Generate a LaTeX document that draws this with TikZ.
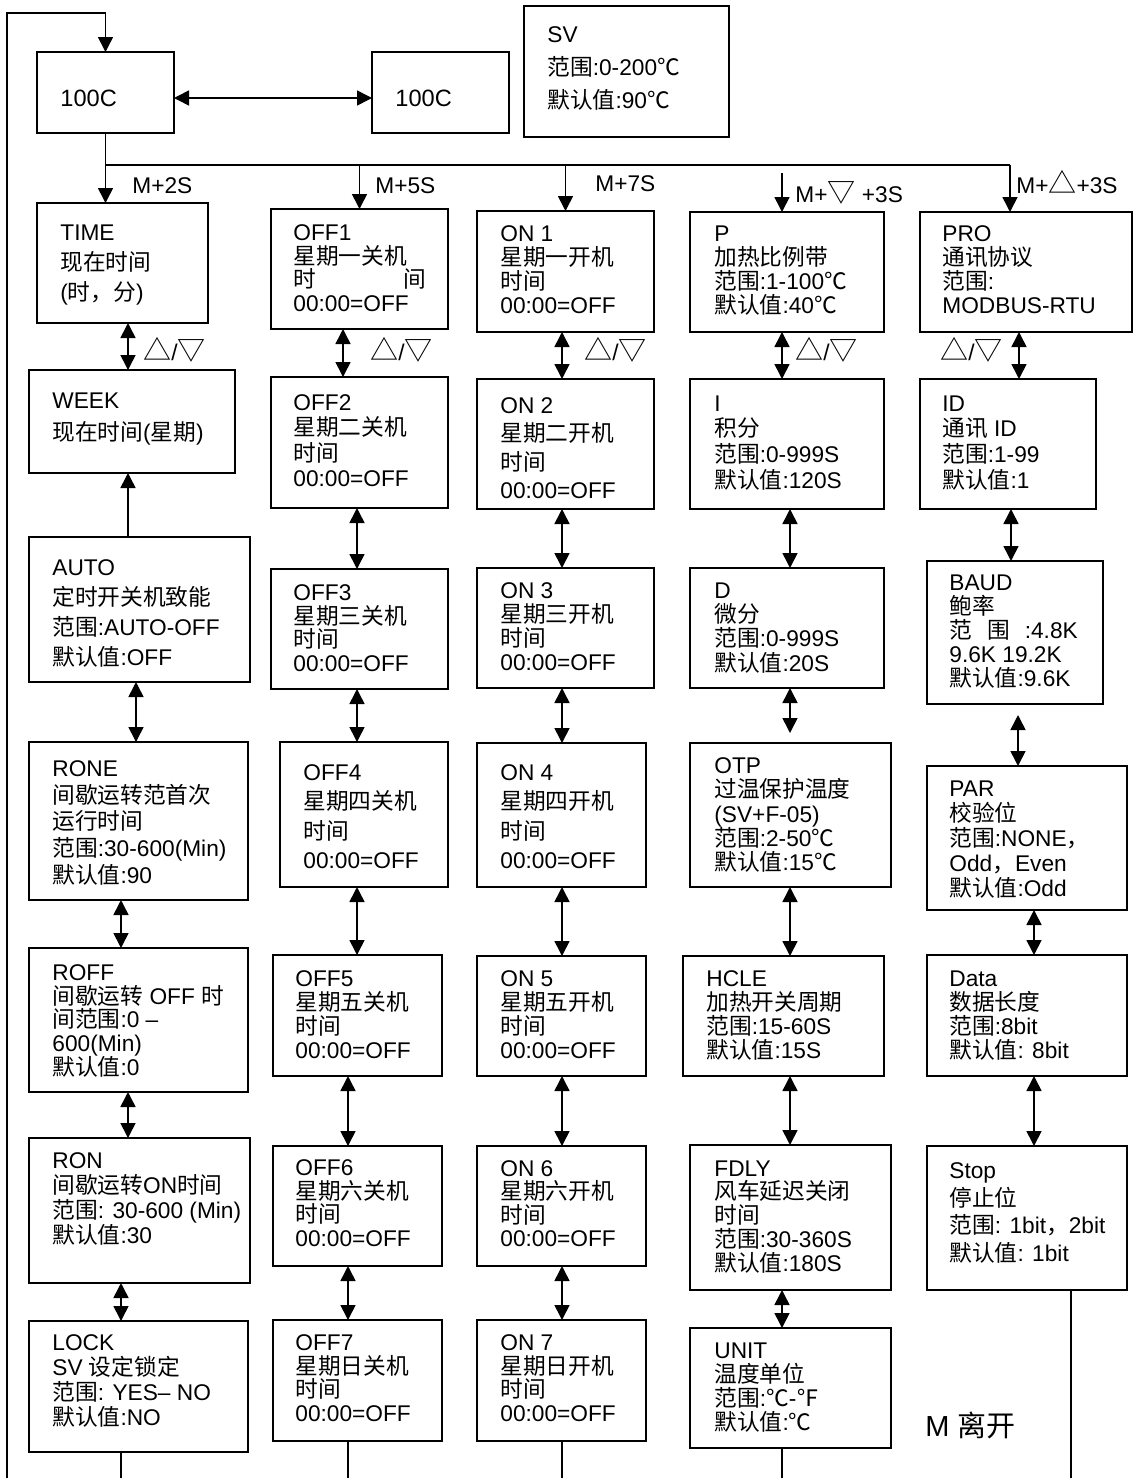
\documentclass[tikz,border=0pt]{standalone}
\usepackage{fontspec}
\setmainfont{Liberation Sans}
\newfontfamily\cjk{Noto Sans CJK SC}
\newcommand\zh[1]{{\cjk #1}}
\newcommand\tri[1]{{\cjk\fontsize{14}{14}\selectfont #1}}
\usetikzlibrary{arrows.meta}

\begin{document}
\begin{tikzpicture}[x=0.5pt, y=-0.5pt,
    pbox/.style 2 args={draw, line width=1pt, anchor=north west, inner sep=0pt, outer sep=0pt,
        minimum width=#1*0.5pt, minimum height=#2*0.5pt},
    txt/.style={anchor=north west, inner sep=0pt, align=left, font=\fontsize{11.35}{#1}\selectfont},
    txt/.default=12,
    lbl/.style={anchor=base west, inner sep=0pt, font=\fontsize{11.35}{12}\selectfont},
    wire/.style={line width=0.8pt},
    arr/.style={line width=0.8pt, -{Triangle[width=7.5pt,length=7.5pt]}},
    biarr/.style={line width=0.8pt, {Triangle[width=7.5pt,length=7.5pt]}-{Triangle[width=7.5pt,length=7.5pt]}}]
    \useasboundingbox (0,0) rectangle (1141,1478);

    % top row
    \node[pbox={137}{81}] (main) at (37,52) {};
    \node[pbox={137}{81}] (alt) at (372,52) {};
    \node[pbox={205}{131}] (sv) at (524,6) {};
    \node[lbl, font=\fontsize{11.8}{12}\selectfont] (main-t) at (60,106) {100C};
    \node[lbl, font=\fontsize{11.8}{12}\selectfont] (alt-t) at (395,106) {100C};
    \node[txt=16.5] (sv-t) at (547,26) {SV\\\zh{范围}:0-200\zh{℃}\\\zh{默认值}:90\zh{℃}};
    \draw[biarr] (main.east |- 0,98) -- (alt.west |- 0,98);

    % column 1
    \node[pbox={171}{120}] (time) at (37,203) {};
    \node[pbox={206}{103}] (week) at (29,370) {};
    \node[pbox={221}{145}] (auto) at (29,537) {};
    \node[pbox={219}{158}] (rone) at (29,742) {};
    \node[pbox={219}{144}] (roff) at (29,948) {};
    \node[pbox={221}{145}] (ron) at (29,1138) {};
    \node[pbox={219}{131}] (lock) at (29,1321) {};
    \node[txt=15] (time-t) at (60,224) {TIME\\\zh{现在时间}\\(\zh{时，分})};
    \node[txt=16] (week-t) at (52,392) {WEEK\\\zh{现在时间}(\zh{星期})};
    \node[txt=15] (auto-t) at (52,559) {AUTO\\\zh{定时开关机致能}\\\zh{范围}:AUTO-OFF\\\zh{默认值}:OFF};
    \node[txt=13.4] (rone-t) at (52,760) {RONE\\\zh{间歇运转范首次}\\\zh{运行时间}\\\zh{范围}:30-600(Min)\\\zh{默认值}:90};
    \node[txt=11.9] (roff-t) at (52,964) {ROFF\\\zh{间歇运转} OFF \zh{时}\\\zh{间范围}:0 –\\600(Min)\\\zh{默认值}:0};
    \node[txt=12.5] (ron-t) at (52,1152) {RON\\\zh{间歇运转}ON\zh{时间}\\\zh{范围}: 30-600 (Min)\\\zh{默认值}:30};
    \node[txt=12.5] (lock-t) at (52,1334) {LOCK\\SV \zh{设定锁定}\\\zh{范围}: YES– NO\\\zh{默认值}:NO};

    % column 2
    \node[pbox={177}{120}] (off1) at (271,209) {};
    \node[pbox={177}{131}] (off2) at (271,377) {};
    \node[pbox={177}{120}] (off3) at (271,569) {};
    \node[pbox={168}{145}] (off4) at (280,742) {};
    \node[pbox={169}{121}] (off5) at (273,955) {};
    \node[pbox={169}{120}] (off6) at (273,1146) {};
    \node[pbox={169}{121}] (off7) at (273,1320) {};
    \node[txt=11.9] (off1-t) at (293,224) {OFF1\\\zh{星期一关机}\\\zh{时\hspace{43.5pt}间}\\00:00=OFF};
    \node[txt=12.7] (off2-t) at (293,394) {OFF2\\\zh{星期二关机}\\\zh{时间}\\00:00=OFF};
    \node[txt=11.9] (off3-t) at (293,584) {OFF3\\\zh{星期三关机}\\\zh{时间}\\00:00=OFF};
    \node[txt=14.7] (off4-t) at (303,764) {OFF4\\\zh{星期四关机}\\\zh{时间}\\00:00=OFF};
    \node[txt=12] (off5-t) at (295,970) {OFF5\\\zh{星期五关机}\\\zh{时间}\\00:00=OFF};
    \node[txt=11.9] (off6-t) at (295,1159) {OFF6\\\zh{星期六关机}\\\zh{时间}\\00:00=OFF};
    \node[txt=11.9] (off7-t) at (295,1334) {OFF7\\\zh{星期日关机}\\\zh{时间}\\00:00=OFF};

    % column 3
    \node[pbox={177}{121}] (on1) at (477,211) {};
    \node[pbox={177}{130}] (on2) at (477,379) {};
    \node[pbox={177}{120}] (on3) at (477,568) {};
    \node[pbox={169}{144}] (on4) at (477,743) {};
    \node[pbox={169}{120}] (on5) at (477,956) {};
    \node[pbox={169}{120}] (on6) at (477,1146) {};
    \node[pbox={169}{121}] (on7) at (477,1320) {};
    \node[txt] (on1-t) at (500,225) {ON 1\\\zh{星期一开机}\\\zh{时间}\\00:00=OFF};
    \node[txt=14.2] (on2-t) at (500,397) {ON 2\\\zh{星期二开机}\\\zh{时间}\\00:00=OFF};
    \node[txt] (on3-t) at (500,582) {ON 3\\\zh{星期三开机}\\\zh{时间}\\00:00=OFF};
    \node[txt=14.7] (on4-t) at (500,764) {ON 4\\\zh{星期四开机}\\\zh{时间}\\00:00=OFF};
    \node[txt] (on5-t) at (500,970) {ON 5\\\zh{星期五开机}\\\zh{时间}\\00:00=OFF};
    \node[txt=11.75] (on6-t) at (500,1160) {ON 6\\\zh{星期六开机}\\\zh{时间}\\00:00=OFF};
    \node[txt=11.9] (on7-t) at (500,1334) {ON 7\\\zh{星期日开机}\\\zh{时间}\\00:00=OFF};

    % column 4
    \node[pbox={194}{120}] (p) at (690,212) {};
    \node[pbox={194}{130}] (i) at (690,379) {};
    \node[pbox={194}{120}] (d) at (690,568) {};
    \node[pbox={201}{144}] (otp) at (690,743) {};
    \node[pbox={201}{120}] (hcle) at (683,956) {};
    \node[pbox={201}{145}] (fdly) at (690,1145) {};
    \node[pbox={201}{120}] (unit) at (690,1328) {};
    \node[txt] (p-t) at (714,225) {P\\\zh{加热比例带}\\\zh{范围}:1-100\zh{℃}\\\zh{默认值}:40\zh{℃}};
    \node[txt=12.9] (i-t) at (714,395) {I\\\zh{积分}\\\zh{范围}:0-999S\\\zh{默认值}:120S};
    \node[txt=12.2] (d-t) at (714,582) {D\\\zh{微分}\\\zh{范围}:0-999S\\\zh{默认值}:20S};
    \node[txt=12.2] (otp-t) at (714,757) {OTP\\\zh{过温保护温度}\\(SV+F-05)\\\zh{范围}:2-50\zh{℃}\\\zh{默认值}:15\zh{℃}};
    \node[txt] (hcle-t) at (706,970) {HCLE\\\zh{加热开关周期}\\\zh{范围}:15-60S\\\zh{默认值}:15S};
    \node[txt=11.9] (fdly-t) at (714,1160) {FDLY\\\zh{风车延迟关闭}\\\zh{时间}\\\zh{范围}:30-360S\\\zh{默认值}:180S};
    \node[txt] (unit-t) at (714,1342) {UNIT\\\zh{温度单位}\\\zh{范围}:\zh{℃}-\zh{℉}\\\zh{默认值}:\zh{℃}};

    % column 5
    \node[pbox={212}{120}] (pro) at (920,212) {};
    \node[pbox={176}{130}] (id) at (920,379) {};
    \node[pbox={176}{143}] (baud) at (927,561) {};
    \node[pbox={200}{144}] (par) at (927,766) {};
    \node[pbox={200}{121}] (data) at (927,955) {};
    \node[pbox={200}{144}] (stop) at (927,1146) {};
    \node[txt] (pro-t) at (942,225) {PRO\\\zh{通讯协议}\\\zh{范围}:\\MODBUS-RTU};
    \node[txt=12.9] (id-t) at (942,395) {ID\\\zh{通讯} ID\\\zh{范围}:1-99\\\zh{默认值}:1};
    \node[txt] (baud-t) at (949,574) {BAUD\\\zh{鲍率}\\\zh{范\hspace{7.5pt}围}\hspace{7.5pt}:4.8K\\9.6K 19.2K\\\zh{默认值}:9.6K};
    \node[txt=12.6] (par-t) at (949,780) {PAR\\\zh{校验位}\\\zh{范围}:NONE\zh{，}\\Odd\zh{，}Even\\\zh{默认值}:Odd};
    \node[txt] (data-t) at (949,970) {Data\\\zh{数据长度}\\\zh{范围}:8bit\\\zh{默认值}: 8bit};
    \node[txt=13.9] (stop-t) at (949,1162) {Stop\\\zh{停止位}\\\zh{范围}: 1bit\zh{，}2bit\\\zh{默认值}: 1bit};
    \node[lbl, font=\fontsize{14.5}{16}\selectfont] (quit) at (925,1436) {M \zh{离开}};

    % entry lines
    \coordinate (busL) at (106,165);
    \coordinate (busR) at (1010,165);
    \coordinate (pfree) at (782,173);
    \coordinate (loopturn) at (105.5,13);
    \coordinate (loopend) at (7,1478);
    \draw[arr] (loopend) |- (loopturn) -- (main.north);
    \draw[arr] (main.south) -- (main.south |- time.north);
    \draw[wire] (busL) -- (busR);
    \draw[arr] (off1.north |- busL) -- (off1.north);
    \draw[arr] (on1.north |- busL) -- (on1.north);
    \draw[arr] (busR) -- (busR |- pro.north);
    \draw[arr] (pfree) -- (pfree |- p.north);
    \node[lbl] (m2s) at (132,193) {M+2S};
    \node[lbl] (m5s) at (375,193) {M+5S};
    \node[lbl] (m7s) at (595,191) {M+7S};
    \node[lbl] (mdn) at (795,202) {M+\tri{▽} +3S};
    \node[lbl] (mup) at (1016,193) {M+\tri{△}+3S};

    % up/down between boxes
    \draw[biarr] (time.south -| 128,0) -- (week.north -| 128,0);
    \draw[arr] (auto.north -| 128,0) -- (week.south -| 128,0);
    \draw[biarr] (auto.south -| 136,0) -- (rone.north -| 136,0);
    \draw[biarr] (rone.south -| 121,0) -- (roff.north -| 121,0);
    \draw[biarr] (roff.south -| 128,0) -- (ron.north -| 128,0);
    \draw[biarr] (ron.south -| 121,0) -- (lock.north -| 121,0);

    \draw[biarr] (off1.south -| 343,0) -- (off2.north -| 343,0);
    \draw[biarr] (off2.south -| 357,0) -- (off3.north -| 357,0);
    \draw[biarr] (off3.south -| 357,0) -- (off4.north -| 357,0);
    \draw[biarr] (off4.south -| 357,0) -- (off5.north -| 357,0);
    \draw[biarr] (off5.south -| 348,0) -- (off6.north -| 348,0);
    \draw[biarr] (off6.south -| 348,0) -- (off7.north -| 348,0);

    \draw[biarr] (on1.south -| 562,0) -- (on2.north -| 562,0);
    \draw[biarr] (on2.south -| 562,0) -- (on3.north -| 562,0);
    \draw[biarr] (on3.south -| 562,0) -- (on4.north -| 562,0);
    \draw[biarr] (on4.south -| 562,0) -- (on5.north -| 562,0);
    \draw[biarr] (on5.south -| 562,0) -- (on6.north -| 562,0);
    \draw[biarr] (on6.south -| 562,0) -- (on7.north -| 562,0);

    \draw[biarr] (p.south -| 782,0) -- (i.north -| 782,0);
    \draw[biarr] (i.south -| 790,0) -- (d.north -| 790,0);
    \draw[biarr, shorten >=5pt] (d.south -| 790,0) -- (otp.north -| 790,0);
    \draw[biarr] (otp.south -| 790,0) -- (hcle.north -| 790,0);
    \draw[biarr] (hcle.south -| 790,0) -- (fdly.north -| 790,0);
    \draw[biarr] (fdly.south -| 782,0) -- (unit.north -| 782,0);

    \draw[biarr] (pro.south -| 1019,0) -- (id.north -| 1019,0);
    \draw[biarr] (id.south -| 1011,0) -- (baud.north -| 1011,0);
    \draw[biarr, shorten <=5.5pt] (baud.south -| 1018,0) -- (par.north -| 1018,0);
    \draw[biarr] (par.south -| 1034,0) -- (data.north -| 1034,0);
    \draw[biarr] (data.south -| 1034,0) -- (stop.north -| 1034,0);

    \node[lbl] (ud1) at (143,360) {\tri{△}/\tri{▽}};
    \node[lbl] (ud2) at (370,360) {\tri{△}/\tri{▽}};
    \node[lbl] (ud3) at (584,360) {\tri{△}/\tri{▽}};
    \node[lbl] (ud4) at (795,360) {\tri{△}/\tri{▽}};
    \node[lbl] (ud5) at (940,360) {\tri{△}/\tri{▽}};

    % lines leaving at the bottom
    \coordinate (end1) at (121,1478);
    \coordinate (end2) at (348,1478);
    \coordinate (end3) at (562,1478);
    \coordinate (end4) at (782,1478);
    \coordinate (end5) at (1071,1478);
    \draw[wire] (lock.south -| end1) -- (end1);
    \draw[wire] (off7.south -| end2) -- (end2);
    \draw[wire] (on7.south -| end3) -- (end3);
    \draw[wire] (unit.south -| end4) -- (end4);
    \draw[wire] (stop.south -| end5) -- (end5);
\end{tikzpicture}
\end{document}
